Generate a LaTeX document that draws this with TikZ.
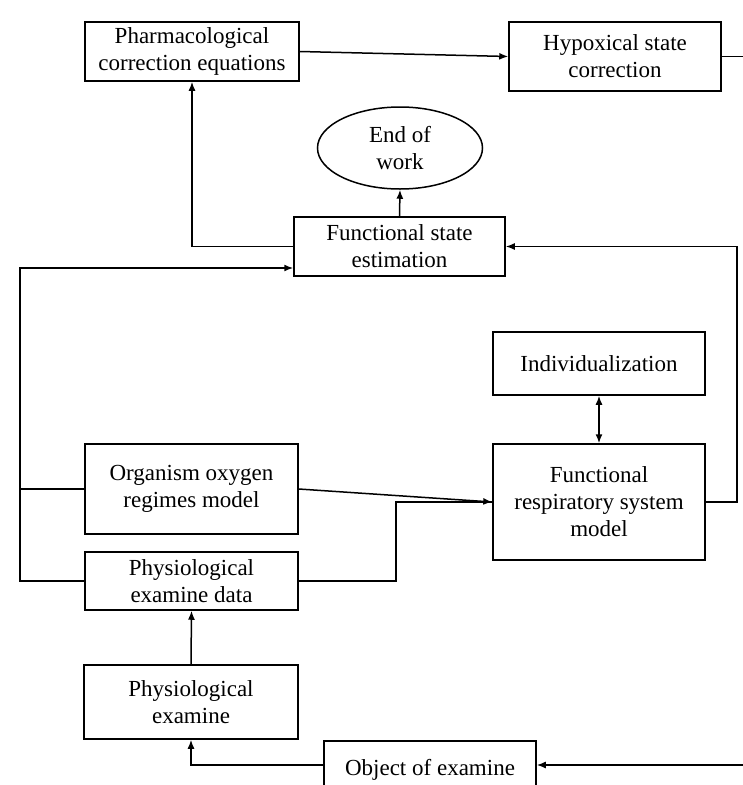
\documentclass[tikz,border=0pt]{standalone}
\usepackage{fontspec}
\setmainfont{Liberation Serif}
\usetikzlibrary{arrows.meta,shapes.geometric,calc}
\begin{document}
\begin{tikzpicture}[x=1pt,y=-1pt,
  box/.style={draw,line width=1.5pt,rectangle,align=center,inner sep=0pt,
    font=\fontsize{23}{27}\selectfont},
  conn/.style={line width=1.5pt},
  arr/.style={line width=1.5pt,-{Latex[length=9pt,width=7pt]}},
  darr/.style={line width=1.5pt,{Latex[length=9pt,width=7pt]}-{Latex[length=9pt,width=7pt]}}]
\useasboundingbox (0,0) rectangle (743,785);
\clip (0,0) rectangle (743,785);
\node[box,minimum width=214pt,minimum height=59pt] (pharma) at (192,51.5) {Pharmacological\\correction equations};
\node[box,minimum width=212pt,minimum height=69pt] (hypox) at (615,56.5) {Hypoxical state\\correction};
\node[box,ellipse,minimum width=165pt,minimum height=82pt] (endw) at (400,148) {End of\\work};
\node[box,minimum width=211pt,minimum height=59pt] (fse) at (399.5,246.5) {Functional state\\estimation};
\node[box,minimum width=212pt,minimum height=63pt] (indiv) at (599,363.5) {Individualization};
\node[box,minimum width=213pt,minimum height=90pt] (organ) at (191.5,489) {Organism oxygen\\regimes model};
\node[box,minimum width=212pt,minimum height=116pt] (frsm) at (599,502) {Functional\\respiratory system\\model};
\node[box,minimum width=213pt,minimum height=58pt] (pdata) at (191.5,581) {Physiological\\examine data};
\node[box,minimum width=214pt,minimum height=74pt] (pexam) at (191,702) {Physiological\\examine};
\node[box,minimum width=212pt,minimum height=48pt,text depth=0pt] (obj) at (430,765) {\raisebox{-5pt}{Object of examine}};
\coordinate (lt) at (20,268);
\coordinate (rt) at (737,502);
\coordinate (hxout) at (745,56.5);
\coordinate (objin) at (745,765);
\coordinate (mid) at (396,581);
\draw[arr] (pharma.east) -- (hypox.west);
\draw[conn] (hypox.east) -- (hxout);
\draw[arr] (fse.north) -- (endw.south);
\draw[arr] (fse.west) -| (pharma.south);
\draw[arr] (pdata.west) -| (lt) -- (lt -| fse.west);
\draw[conn] (organ.west) -- (organ.west -| lt);
\draw[arr] (frsm.east) -- (rt) |- (fse.east);
\draw[darr] (indiv.south) -- (frsm.north);
\draw[arr] (organ.east) -- (frsm.west);
\draw[conn] (pdata.east) -- (mid) |- (frsm.west);
\draw[arr] (pexam.north) -- (pdata.south);
\draw[arr] (obj.west) -| (pexam.south);
\draw[arr] (objin) -- (obj.east);
\end{tikzpicture}
\end{document}
